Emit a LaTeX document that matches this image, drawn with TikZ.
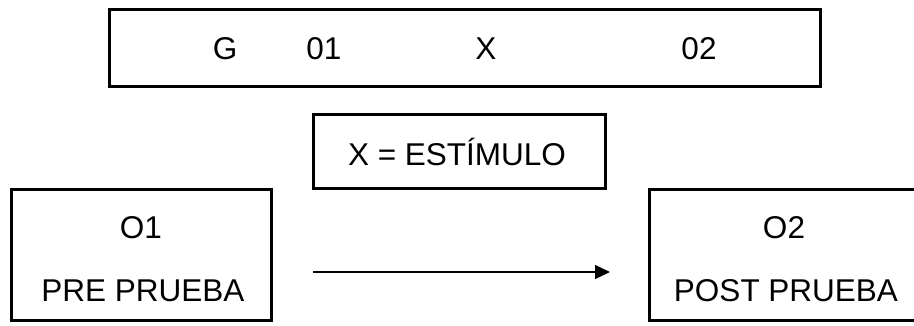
\documentclass[tikz,border=0pt]{standalone}
\usepackage{fontspec}
\setmainfont{Liberation Sans}
\usetikzlibrary{arrows.meta}
\begin{document}
\begin{tikzpicture}[x=1pt,y=-1pt,
  frame/.style={draw=black,line width=3pt,rectangle,inner sep=0pt},
  lbl/.style={anchor=base,inner sep=0pt,font=\fontsize{31.5}{38}\selectfont},
  flow/.style={line width=1.3pt,-{Triangle[length=15pt,width=14pt]}}]
  \useasboundingbox (0,0) rectangle (914,325);

  % boxes
  \node[frame,minimum width=711pt,minimum height=77pt] (design) at (465,48) {};
  \node[frame,minimum width=292pt,minimum height=74pt] (stim) at (459.5,151.5) {};
  \node[frame,minimum width=260pt,minimum height=131pt] (pre) at (141.5,255) {};
  \node[frame,minimum width=281pt,minimum height=131pt] (post) at (790,255) {};

  % design row
  \node[lbl] (g) at (225,59) {G};
  \node[lbl] (o1top) at (324,59) {01};
  \node[lbl] (xtop) at (486,59) {X};
  \node[lbl] (o2top) at (699,59) {02};

  % stimulus legend
  \node[lbl] (stimtext) at (457,165) {X = ESTÍMULO};

  % observations
  \node[lbl] (o1) at (141,238) {O1};
  \node[lbl] (pretext) at (143,301) {PRE PRUEBA};
  \node[lbl] (o2) at (784,238) {O2};
  \node[lbl] (posttext) at (786,301) {POST PRUEBA};

  % arrow between the observations
  \coordinate (arrowstart) at (313,272);
  \coordinate (arrowend) at (610,272);
  \draw[flow] (arrowstart) -- (arrowend);
\end{tikzpicture}
\end{document}
